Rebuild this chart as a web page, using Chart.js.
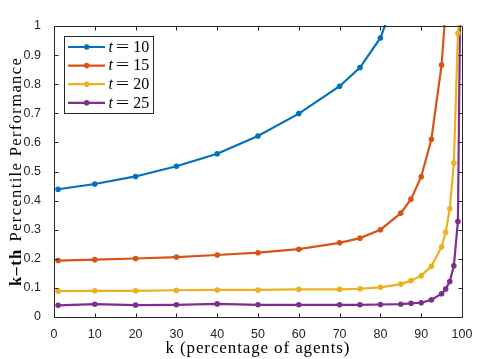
<!DOCTYPE html>
<html><head><meta charset="utf-8">
<script src="https://cdn.jsdelivr.net/npm/chart.js@4/dist/chart.umd.min.js"></script>
<style>html,body{margin:0;padding:0;background:#fff}#wrap{width:498px;height:359px;position:relative}</style>
</head><body><div id="wrap"><canvas id="c" width="498" height="359"></canvas></div>
<script>
// ---- data ----
const kT10 = [1,10,20,30,40,50,60,70,75,80,85];
const vT10 = [0.439,0.457,0.483,0.518,0.561,0.622,0.699,0.793,0.857,0.959,1.15];
const kT15 = [1,10,20,30,40,50,60,70,75,80,85,87.5,90,92.5,95,96];
const vT15 = [0.194,0.197,0.201,0.206,0.213,0.221,0.233,0.255,0.271,0.300,0.357,0.405,0.482,0.611,0.866,1.06];
const kT20 = [1,10,20,30,40,50,60,70,75,80,85,87.5,90,92.5,95,96,97,98,99,100];
const vT20 = [0.089,0.090,0.090,0.092,0.093,0.093,0.095,0.095,0.097,0.102,0.113,0.125,0.142,0.174,0.241,0.291,0.372,0.529,0.975,1.1];
const kT25 = [1,10,20,30,40,50,60,70,75,80,85,87.5,90,92.5,95,96,97,98,99,100];
const vT25 = [0.040,0.044,0.041,0.042,0.045,0.042,0.042,0.042,0.042,0.043,0.044,0.047,0.049,0.059,0.080,0.096,0.122,0.176,0.328,1.67];
const tValues = ['10','15','20','25'];
const xTicks = [0,10,20,30,40,50,60,70,80,90,100];
const yTicks = [0,0.1,0.2,0.3,0.4,0.5,0.6,0.7,0.8,0.9,1];
const xTitle = 'k (percentage of agents)';
const yTitleBold = 'k\u2013th';
const yTitleRest = 'Percentile Performance';

const colors = ['#0072BD','#D95319','#EDB120','#7E2F8E'];
const AX = '#262626';
const SERIF = '"Liberation Serif"';

function pts(k, v){ return k.map((x,i)=>({x:x, y:v[i]})); }
const series = [[kT10,vT10],[kT15,vT15],[kT20,vT20],[kT25,vT25]];

const datasets = series.map((s,i)=>({
  label: 't = ' + tValues[i],
  data: pts(s[0], s[1]),
  borderColor: colors[i],
  backgroundColor: colors[i],
  pointBackgroundColor: colors[i],
  pointBorderColor: colors[i],
  borderWidth: 2.2,
  pointRadius: 2.8,
  pointBorderWidth: 0,
  tension: 0,
  clip: 1,
  fill: false
}));

function fitSpacing(ctx, text, target){
  ctx.letterSpacing = '0px';
  const w = ctx.measureText(text).width;
  return (target - w) / text.length;
}

const overlay = {
  id: 'overlay',
  afterDraw(chart){
    const ctx = chart.ctx;
    const a = chart.chartArea;
    const xs = chart.scales.x, ys = chart.scales.y;
    const L = Math.round(a.left)+0.5, R = Math.round(a.right)+0.5, T = Math.round(a.top)+0.5, B = Math.round(a.bottom)+0.5;
    ctx.save();
    ctx.strokeStyle = AX; ctx.lineWidth = 1;
    ctx.beginPath();
    ctx.rect(L, T, R-L, B-T);
    const tl = 4;
    xTicks.forEach(v=>{
      const x = Math.round(xs.getPixelForValue(v))+0.5;
      ctx.moveTo(x,B); ctx.lineTo(x,B-tl);
      ctx.moveTo(x,T); ctx.lineTo(x,T+tl);
    });
    yTicks.forEach(v=>{
      const y = Math.round(ys.getPixelForValue(v))+0.5;
      ctx.moveTo(L,y); ctx.lineTo(L+tl,y);
      ctx.moveTo(R,y); ctx.lineTo(R-tl,y);
    });
    ctx.stroke();

    // legend
    const lx = 64.5, ly = 36.5, lw = 89, lh = 77;
    ctx.fillStyle = '#fff';
    ctx.fillRect(lx, ly, lw, lh);
    ctx.strokeStyle = AX; ctx.lineWidth = 1;
    ctx.strokeRect(lx, ly, lw, lh);
    chart.data.datasets.forEach((d,i)=>{
      const y = 47 + i*18.6;
      ctx.strokeStyle = d.borderColor; ctx.lineWidth = 2.2;
      ctx.beginPath(); ctx.moveTo(68, y); ctx.lineTo(105, y); ctx.stroke();
      ctx.fillStyle = d.borderColor;
      ctx.beginPath(); ctx.arc(86.7, y, 2.8, 0, Math.PI*2); ctx.fill();
      ctx.fillStyle = '#000';
      ctx.textBaseline = 'middle';
      ctx.textAlign = 'left';
      ctx.font = 'italic 16px ' + SERIF;
      ctx.fillText('t', 108.5, y+0.5);
      ctx.font = '16px ' + SERIF;
      ctx.save();
      ctx.scale(1.5, 1);
      ctx.textAlign = 'center';
      ctx.fillText('=', 122.5/1.5, y+0.5);
      ctx.restore();
      ctx.textAlign = 'left';
      ctx.fillText(tValues[i], 133.3, y+0.5);
    });

    // y title
    ctx.fillStyle = '#000';
    ctx.save();
    ctx.translate(17, 171.5);
    ctx.rotate(-Math.PI/2);
    const fs = 16.5;
    const gap = 7;
    const target = 229;
    ctx.letterSpacing = '0px';
    ctx.font = 'bold '+fs+'px ' + SERIF;
    const wb0 = ctx.measureText(yTitleBold).width;
    ctx.font = fs+'px ' + SERIF;
    const wr0 = ctx.measureText(yTitleRest).width;
    const ls = (target - gap - wb0 - wr0) / (yTitleBold.length + yTitleRest.length);
    const start = -target/2;
    ctx.textBaseline = 'middle';
    ctx.textAlign = 'left';
    ctx.letterSpacing = ls.toFixed(2)+'px';
    ctx.font = 'bold '+fs+'px ' + SERIF;
    ctx.fillText(yTitleBold, start, 0);
    const wb = wb0 + ls*yTitleBold.length;
    ctx.font = fs+'px ' + SERIF;
    ctx.fillText(yTitleRest, start+wb+gap, 0);
    ctx.restore();

    // x title
    ctx.save();
    ctx.font = '17px ' + SERIF;
    const lsx = fitSpacing(ctx, xTitle, 185);
    ctx.letterSpacing = lsx.toFixed(2)+'px';
    ctx.textAlign = 'left';
    ctx.textBaseline = 'alphabetic';
    ctx.fillStyle = '#000';
    ctx.fillText(xTitle, (a.left+a.right)/2 - 92.5, 352.5);
    ctx.restore();
    ctx.restore();
  }
};

new Chart(document.getElementById('c'), {
  type: 'line',
  data: { datasets },
  options: {
    responsive: false,
    animation: false,
    devicePixelRatio: 1,
    layout: { padding: { top: 26, right: 36, left: 0, bottom: 0 } },
    plugins: { legend: { display: false }, tooltip: { enabled: false } },
    scales: {
      x: {
        type: 'linear', min: 0, max: 100,
        afterBuildTicks: s => { s.ticks = xTicks.map(v=>({value:v})); },
        afterFit: s => { s.height = 42; },
        grid: { display: false },
        border: { display: false },
        ticks: { color: AX, font: { family: '"Liberation Sans"', size: 12.5 }, padding: 2, maxRotation: 0, autoSkip: false, callback: v => String(v) }
      },
      y: {
        type: 'linear', min: 0, max: 1,
        afterBuildTicks: s => { s.ticks = yTicks.map(v=>({value:v})); },
        afterFit: s => { s.width = 54; },
        grid: { display: false },
        border: { display: false },
        ticks: { color: AX, font: { family: '"Liberation Sans"', size: 12.5 }, padding: 5, autoSkip: false, callback: v => String(v) }
      }
    }
  },
  plugins: [overlay]
});
</script>
</body></html>
